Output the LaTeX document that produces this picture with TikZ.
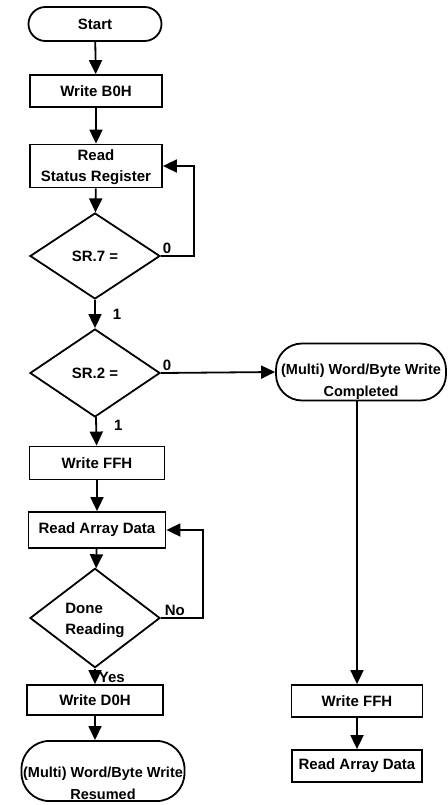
\documentclass[tikz,border=0pt]{standalone}
\usepackage{fontspec}
\setmainfont{Liberation Sans}
\usetikzlibrary{shapes.geometric,arrows.meta}

\tikzset{
	hop/.style={draw, rectangle, minimum width=132pt, minimum height=32pt, inner sep=1pt},
	thoi/.style={draw, diamond, minimum width=130pt, minimum height=86pt, inner sep=0pt},
	bau/.style={draw, rectangle, rounded corners=17pt, minimum width=133pt, minimum height=34pt, inner xsep=0pt, inner ysep=1pt, align=center},
	nhan/.style={inner sep=1pt}
}

\begin{document}
\begin{tikzpicture}[>={Triangle[width=13pt,length=14pt]}, x=1pt, y=-1pt, line width=1.8pt,
	every node/.style={font=\fontsize{15}{21}\selectfont\bfseries}]
	\useasboundingbox (0,0) rectangle (447,805);
	
	% --- COT TRAI: GHI, DOC TRANG THAI ---
	\node[bau] (start) at (95,24) {Start};
	\node[hop] (b0h) at (96,91) {Write B0H};
	\node[hop, minimum height=43pt, align=center] (rsr) at (96,166) {\rule{0pt}{14pt}Read\\Status Register};
	\node[thoi] (sr7) at (95,256) {SR.7 =};
	\node[thoi, minimum height=88pt] (sr2) at (95,373) {SR.2 =};
	
	% --- COT TRAI: DOC MANG ---
	\node[hop, minimum width=135pt, minimum height=33pt] (wffh) at (97,463) {Write FFH};
	\node[hop, minimum width=137pt, minimum height=36pt] (rad) at (97,530) {Read Array Data};
	\node[thoi, minimum height=82pt, align=left] (dr) at (95,618) {\rule{0pt}{16pt}Done\\Reading};
	\node[hop, minimum width=136pt, minimum height=30pt] (wd0h) at (95,700) {Write D0H};
	\node[bau, rounded corners=28pt, minimum width=163pt, minimum height=60pt,
		font=\fontsize{14.5}{22}\selectfont\bfseries] (resumed) at (103,771) {\rule{0pt}{36pt}(Multi) Word/Byte Write\\Resumed};
	
	% --- COT PHAI ---
	\node[bau, rounded corners=26pt, minimum width=170pt, minimum height=55pt,
		font=\fontsize{14.5}{22}\selectfont\bfseries] (completed) at (361,372) {\rule{0pt}{30pt}(Multi) Word/Byte Write\\Completed};
	\node[hop, minimum width=131pt] (wffh2) at (357,701) {Write FFH};
	\node[hop, minimum width=130pt] (rad2) at (357,766) {Read Array Data};
	
	% Cac mui ten chinh
	\draw[->] (start) -- (b0h);
	\draw[->] (b0h) -- (rsr);
	\draw[->] (rsr) -- (sr7);
	\draw[->] (sr7) -- node[nhan, right, pos=0.5, xshift=16pt]{1} (sr2);
	\draw[->] (sr2) -- node[nhan, right, pos=0.3, xshift=16pt]{1} (wffh);
	\draw[->] (wffh) -- (rad);
	\draw[->] (rad) -- (dr);
	\draw[->] (dr) -- node[nhan, right, pos=0.6, xshift=2pt]{Yes} (wd0h);
	\draw[->] (wd0h) -- (resumed.north -| wd0h.south);
	\draw[->] (sr2.east) -- (completed.west);
	\draw[->] (completed.south -| wffh2.north) -- (wffh2);
	\draw[->] (wffh2) -- (rad2);
	
	% Vong lap quay lai
	\draw[->] (sr7.east) -- ++(33,0) |- (rsr.east);
	\draw[->] (dr.east) -- ++(42,0) |- (rad.east);
	
	% Nhan 0 / No
	\node[nhan, above right] (n7) at (sr7.east) {0};
	\node[nhan, above right] (n2) at (sr2.east) {0};
	\node[nhan, above right, xshift=2pt] (nno) at (dr.east) {No};
\end{tikzpicture}
\end{document}
